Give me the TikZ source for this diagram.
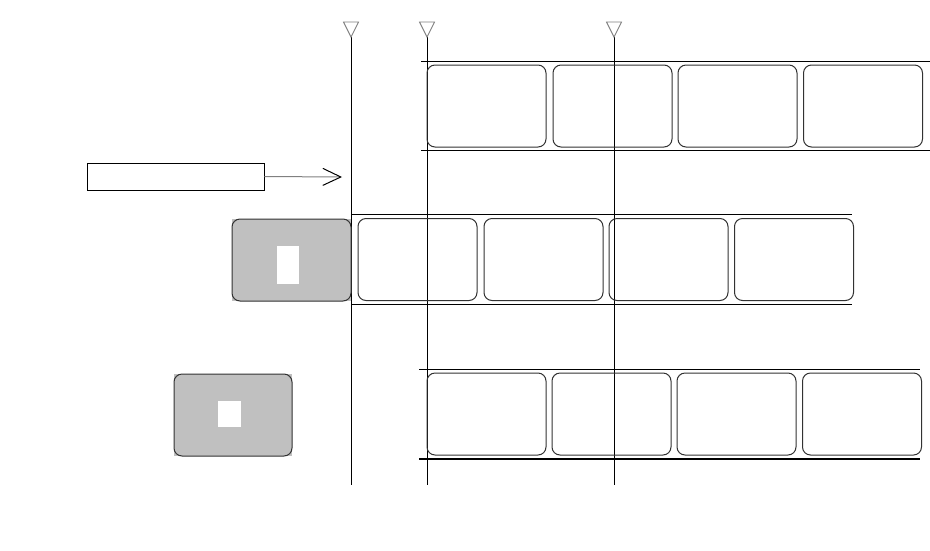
\documentclass[tikz,border=0pt]{standalone}
\usetikzlibrary{arrows.meta}
\definecolor{boxgray}{RGB}{192,192,192}
\definecolor{edgegray}{RGB}{50,50,50}
\tikzset{
  cell/.style={draw=edgegray, line width=1pt, rounded corners=8pt, inner sep=0pt, minimum width=119pt, minimum height=82pt},
  graycell/.style={cell, fill=boxgray},
  hole/.style={fill=white, inner sep=0pt},
  rail/.style={draw=black, line width=0.9pt},
  marker/.style={draw=gray, line width=0.9pt, fill=white},
  vline/.style={draw=black, line width=0.9pt},
  labelbox/.style={draw=black, line width=0.9pt, inner sep=0pt, minimum width=177pt, minimum height=27pt},
  pointer/.style={draw=gray, line width=1pt, -{Straight Barb[length=18pt, width=17pt, line width=1pt, color=black]}}
}
\begin{document}
\begin{tikzpicture}[x=1pt, y=-1pt]
\useasboundingbox (0,0) rectangle (930,550);
% vertical lines with markers
\foreach \n/\x in {va/351, vb/427, vc/614} {
  \coordinate (\n top) at (\x,37);
  \coordinate (\n bot) at (\x,485);
  \draw[vline] (\n top) -- (\n bot);
  \draw[marker] (\x-7.5,22) -- (\x+7.5,22) -- (\x,37) -- cycle;
}
% top row
\coordinate (t1) at (421,61); \coordinate (t2) at (930,61);
\coordinate (t3) at (421,150); \coordinate (t4) at (930,150);
\draw[rail] (t1) -- (t2);
\draw[rail] (t3) -- (t4);
\node[cell] (a1) at (486.5,106) {};
\node[cell] (a2) at (612.5,106) {};
\node[cell] (a3) at (737.5,106) {};
\node[cell] (a4) at (863,106) {};
% label and arrow
\node[labelbox] (lbl) at (175.5,176.5) {};
\coordinate (tip) at (342,177);
\draw[pointer] (lbl.east) -- (tip);
% middle row
\coordinate (m1) at (351,214); \coordinate (m2) at (852,214);
\coordinate (m3) at (351,304); \coordinate (m4) at (852,304);
\draw[rail] (m1) -- (m2);
\draw[rail] (m3) -- (m4);
\fill[boxgray] (232,219) rectangle (351,301);
\node[graycell, minimum height=82pt] (g1) at (291.5,260) {};
\node[hole, minimum width=22pt, minimum height=38pt] (h1) at (288,265) {};
\node[cell] (b1) at (417.5,259.5) {};
\node[cell] (b2) at (543.5,259.5) {};
\node[cell] (b3) at (668.5,259.5) {};
\node[cell] (b4) at (794,259.5) {};
% bottom row
\coordinate (r1) at (419,369); \coordinate (r2) at (920,369);
\coordinate (r3) at (419,459); \coordinate (r4) at (920,459);
\draw[rail] (r1) -- (r2);
\draw[rail, line width=2.4pt] (r3) -- (r4);
\fill[boxgray] (174,374) rectangle (292,456);
\node[graycell, minimum width=118pt] (g2) at (233,415) {};
\node[hole, minimum width=23pt, minimum height=26pt] (h2) at (229.5,414) {};
\node[cell] (c1) at (486.5,414) {};
\node[cell] (c2) at (611.5,414) {};
\node[cell] (c3) at (736.5,414) {};
\node[cell] (c4) at (862,414) {};
\end{tikzpicture}
\end{document}
